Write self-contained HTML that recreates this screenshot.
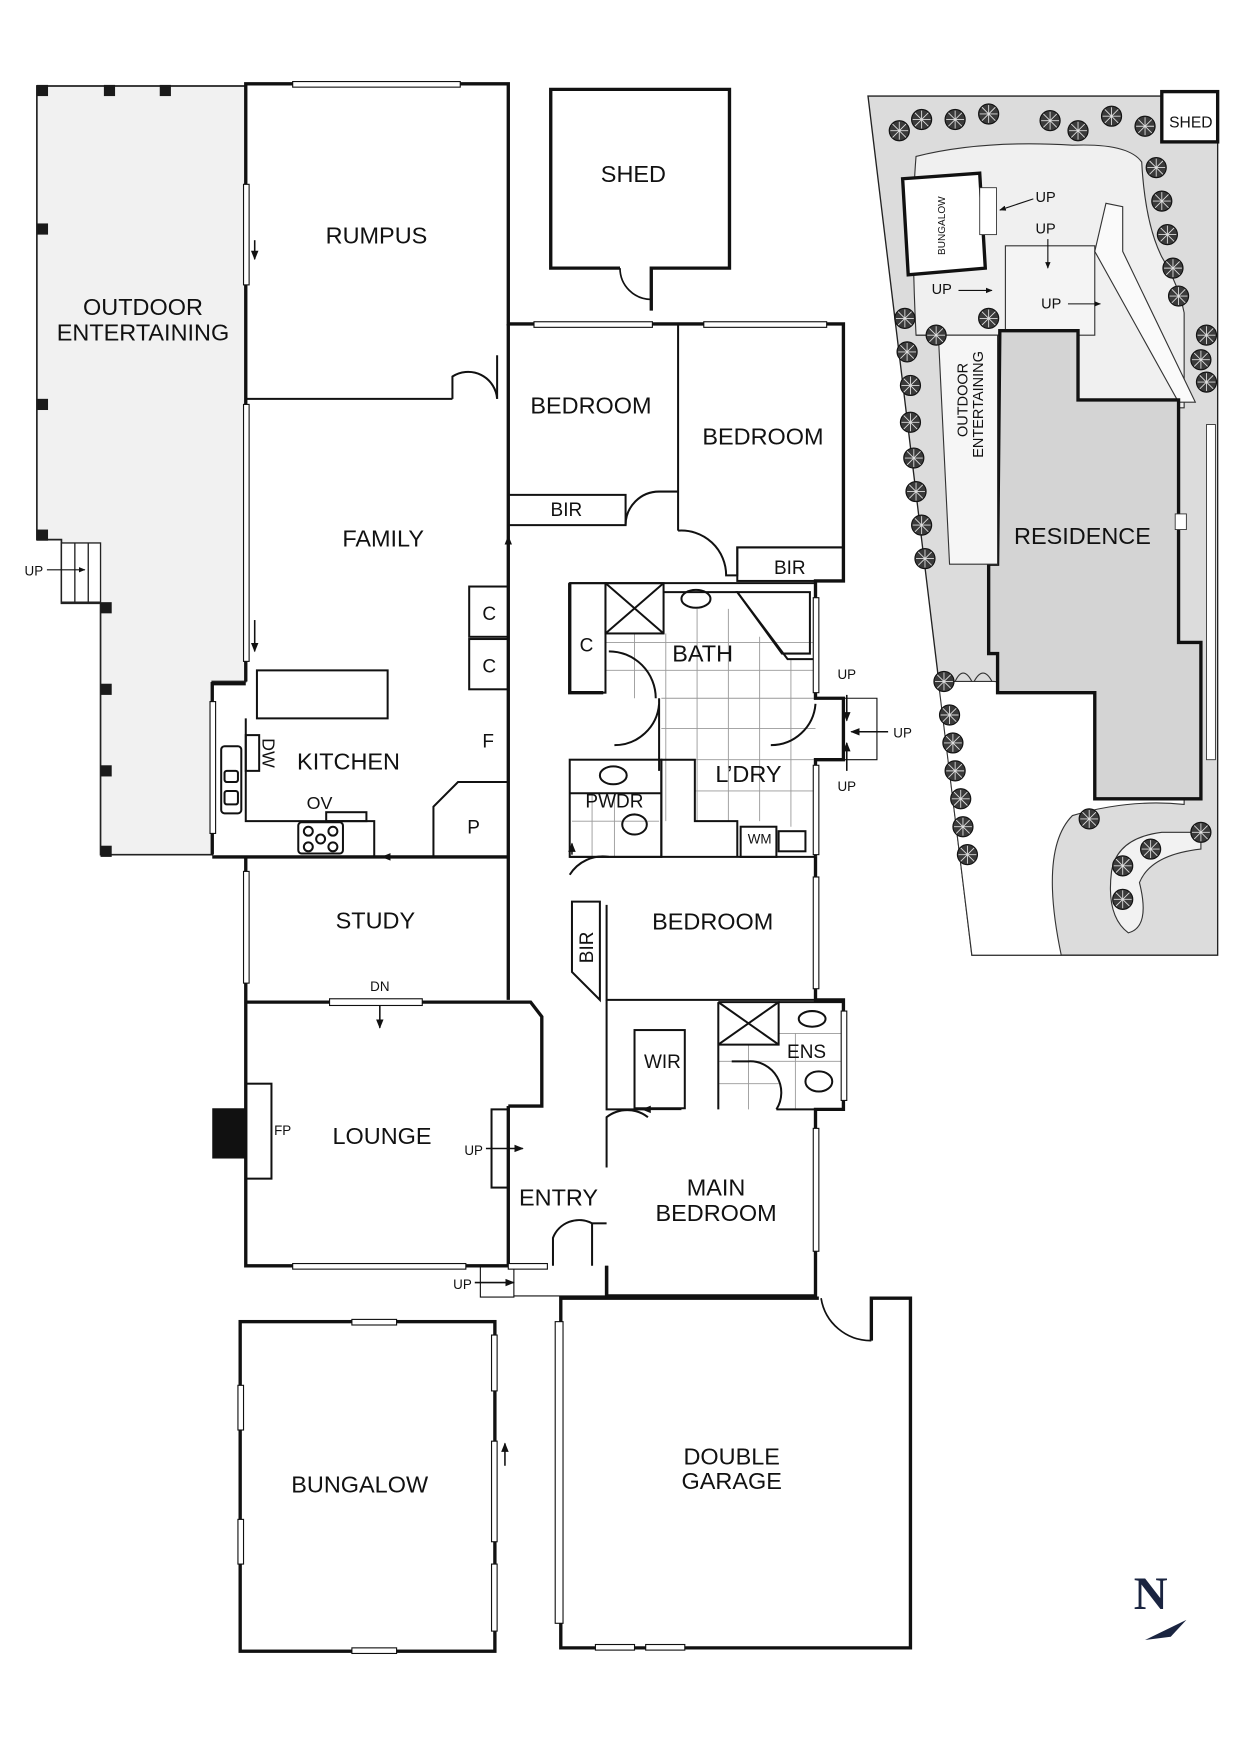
<!DOCTYPE html>
<html><head><meta charset="utf-8"><style>
html,body{margin:0;padding:0;background:#fff}
svg{display:block}
text{font-family:"Liberation Sans",Arial,sans-serif;fill:#111}
</style></head><body>
<svg width="1240" height="1754" viewBox="0 0 1110 1570" preserveAspectRatio="none" xmlns="http://www.w3.org/2000/svg">
<defs>
<marker id="ah" viewBox="0 0 10 10" refX="9" refY="5" markerWidth="6" markerHeight="6" orient="auto"><path d="M0,1 L10,5 L0,9z" fill="#111"/></marker>
<g id="tree"><circle r="9" fill="#3a3a3a" stroke="#111" stroke-width="1"/><path d="M-8,0H8M0,-8V8M-6,-6L6,6M-6,6L6,-6" stroke="#ddd" stroke-width="0.8"/></g>
</defs>
<rect width="1110" height="1570" fill="#fff"/>

<!-- OUTDOOR ENTERTAINING -->
<path d="M33,77 H220 V610 H190 V765 H90 V540 H55 V483 H33 Z" fill="#f1f1f1" stroke="#222" stroke-width="1.5"/>
<g fill="#1a1a1a">
<rect x="33" y="76" width="10" height="10"/><rect x="93" y="76" width="10" height="10"/><rect x="143" y="76" width="10" height="10"/>
<rect x="33" y="200" width="10" height="10"/><rect x="33" y="357" width="10" height="10"/><rect x="33" y="474" width="10" height="10"/>
<rect x="90" y="539" width="10" height="10"/><rect x="90" y="612" width="10" height="10"/><rect x="90" y="685" width="10" height="10"/><rect x="90" y="757" width="10" height="10"/>
</g>
<g stroke="#222" stroke-width="1.2" fill="#fff"><rect x="55" y="486" width="35" height="53"/><line x1="67" y1="486" x2="67" y2="539"/><line x1="79" y1="486" x2="79" y2="539"/></g>
<line x1="42" y1="510" x2="76" y2="510" stroke="#111" stroke-width="1" marker-end="url(#ah)"/>
<text x="22" y="515" font-size="12">UP</text>
<text x="128" y="282" font-size="21" text-anchor="middle">OUTDOOR</text>
<text x="128" y="305" font-size="21" text-anchor="middle">ENTERTAINING</text>

<!-- tiles -->
<g stroke="#999" stroke-width="0.8">
<path d="M568,567 V625 M596,567 V735 M624,545 V735 M652,545 V735 M680,570 V735 M708,590 V740"/>
<path d="M542,575 H730 M542,600 H730 M592,625 H730 M592,652 H730 M622,680 H730 M622,708 H730"/>
<path d="M512,735 H590 M530,712 V767 M550,712 V767"/>
<path d="M643,950 H697 M643,970 H697 M670,935 V993 M697,925 H755 M697,950 H755 M712,925 V993"/>
</g>

<!-- MAIN HOUSE WALLS -->
<g fill="none" stroke="#111" stroke-width="3" stroke-linejoin="miter">
<path d="M220,610 V75 H455 V290 H755 V520 H730 V540"/>
<path d="M190,765 V612 H220"/>
<path d="M190,767 H455"/>
<path d="M220,767 V1133 H455"/>
<path d="M220,897 H295 M378,897 H475 L485,910 V990 H455"/>
<path d="M455,290 V895"/>
<path d="M455,990 V1133 H490"/>
<path d="M543,1133 V1160"/>
<path d="M730,540 V625 H755 V680 H730 V767"/>
<path d="M730,767 V895 H755 V993 H730 V1160 H543 V1133"/>
<path d="M510,522 V620 H540"/>
</g>
<g fill="none" stroke="#111" stroke-width="1.8">
<path d="M220,357 H405"/>
<path d="M405,357 V337 A26,26 0 0 1 445,357 V357"/><line x1="445" y1="318" x2="445" y2="357"/>
<path d="M455,443 H560 V470 H455"/>
<path d="M560,470 A30,30 0 0 1 590,440 H607 V290 M607,440 V475"/>
<path d="M607,475 A40,40 0 0 1 650,515 H660 V490 H755"/>
<rect x="660" y="490" width="95" height="30"/>
<path d="M510,522 H730"/>
<rect x="420" y="525" width="35" height="45"/><rect x="420" y="572" width="35" height="45"/>
<path d="M455,700 H410 L388,722 V767"/>
<path d="M230,600 H347 V643 H230 Z"/>
<path d="M220,643 V735 H335 V767"/>
<rect x="220" y="658" width="12" height="32"/>
<rect x="292" y="727" width="36" height="8"/>
<rect x="267" y="736" width="40" height="28" rx="3"/>
<circle cx="276" cy="744" r="4"/><circle cx="298" cy="744" r="4"/><circle cx="276" cy="758" r="4"/><circle cx="298" cy="758" r="4"/><circle cx="287" cy="751" r="4"/>
<rect x="198" y="668" width="18" height="60" rx="3"/>
<rect x="201" y="690" width="12" height="10" rx="2"/><rect x="201" y="708" width="12" height="12" rx="2"/>
<!-- bath -->
<rect x="510" y="522" width="32" height="98"/>
<rect x="542" y="522" width="52" height="45"/><path d="M542,522 L594,567 M594,522 L542,567"/>
<ellipse cx="623" cy="536" rx="13" ry="8"/>
<path d="M660,530 H725 V585 H700 Z"/>
<path d="M594,530 H660 L705,590 H730"/>
<path d="M545,583 A42,42 0 0 1 587,625"/>
<path d="M590,625 V690 M590,630 A40,40 0 0 1 550,667"/>
<path d="M730,630 A40,40 0 0 1 690,667"/>
<!-- pwdr / ldry -->
<rect x="510" y="680" width="82" height="87"/>
<line x1="510" y1="710" x2="592" y2="710"/>
<ellipse cx="549" cy="694" rx="12" ry="8"/>
<ellipse cx="568" cy="738" rx="11" ry="9"/>
<path d="M592,680 V767 M592,680 H622 V735 H660 V767"/>
<rect x="663" y="740" width="32" height="27"/><rect x="697" y="744" width="24" height="18"/>
<path d="M510,767 H730"/>
<!-- bedroom 3 -->
<path d="M510,783 A35,35 0 0 1 545,767"/>
<path d="M512,807 H537 V895 L512,870 Z"/>
<path d="M543,810 V895 H730"/>
<!-- ens/wir -->
<path d="M543,895 V993 H578"/>
<rect x="568" y="922" width="45" height="70"/>
<path d="M643,897 V993 M643,897 H697 V935 H643"/><path d="M643,897 L697,935 M697,897 L643,935"/>
<path d="M697,897 H755 V993 H695"/>
<ellipse cx="727" cy="912" rx="12" ry="7"/><ellipse cx="733" cy="968" rx="12" ry="9"/>
<path d="M655,950 H670 A28,28 0 0 1 695,993"/>
<path d="M543,1045 V1000 A30,30 0 0 1 580,1000"/>
<!-- entry door -->
<path d="M495,1133 V1108 A25,25 0 0 1 530,1095 V1133"/>
<line x1="530" y1="1095" x2="543" y2="1095"/>
<!-- lounge -->
<rect x="220" y="970" width="23" height="85"/>
<rect x="440" y="993" width="15" height="70"/>
</g>
<rect x="190" y="992" width="30" height="45" fill="#111"/>
<g stroke="#111" stroke-width="1.4">
<line x1="455" y1="525" x2="455" y2="480" marker-end="url(#ah)"/>
<line x1="390" y1="767" x2="342" y2="767" marker-end="url(#ah)"/>
<line x1="340" y1="900" x2="340" y2="920" marker-end="url(#ah)"/>
<line x1="435" y1="1028" x2="468" y2="1028" marker-end="url(#ah)"/>
<line x1="610" y1="993" x2="575" y2="993" marker-end="url(#ah)"/>
<line x1="228" y1="215" x2="228" y2="232" marker-end="url(#ah)"/>
<line x1="228" y1="555" x2="228" y2="583" marker-end="url(#ah)"/>
<line x1="758" y1="622" x2="758" y2="645" marker-end="url(#ah)"/>
<line x1="795" y1="655" x2="762" y2="655" marker-end="url(#ah)"/>
<line x1="758" y1="690" x2="758" y2="665" marker-end="url(#ah)"/>
<line x1="425" y1="1148" x2="460" y2="1148" marker-end="url(#ah)"/>
<line x1="452" y1="1312" x2="452" y2="1292" marker-end="url(#ah)"/>
<line x1="512" y1="765" x2="512" y2="755" marker-end="url(#ah)"/>
</g>
<path d="M730,625 H785 V680 H755" fill="none" stroke="#111" stroke-width="1"/>
<rect x="430" y="1133" width="30" height="28" fill="none" stroke="#111" stroke-width="1"/>
<path d="M460,1160 H543" stroke="#111" stroke-width="1"/>

<!-- windows -->
<g fill="#fff" stroke="#111" stroke-width="1">
<rect x="262" y="73" width="150" height="5"/>
<rect x="218" y="165" width="5" height="90"/><rect x="218" y="362" width="5" height="230"/>
<rect x="188" y="628" width="5" height="118"/>
<rect x="218" y="780" width="5" height="100"/>
<rect x="478" y="288" width="106" height="5"/><rect x="630" y="288" width="110" height="5"/>
<rect x="728" y="535" width="5" height="85"/><rect x="728" y="685" width="5" height="80"/>
<rect x="728" y="785" width="5" height="100"/><rect x="753" y="905" width="5" height="80"/>
<rect x="728" y="1010" width="5" height="110"/>
<rect x="295" y="894" width="83" height="6"/>
<rect x="262" y="1131" width="155" height="5"/><rect x="455" y="1131" width="35" height="5"/>
</g>

<!-- labels -->
<g font-size="21" text-anchor="middle">
<text x="337" y="218">RUMPUS</text>
<text x="343" y="489">FAMILY</text>
<text x="312" y="689">KITCHEN</text>
<text x="336" y="831">STUDY</text>
<text x="342" y="1024">LOUNGE</text>
<text x="529" y="370">BEDROOM</text>
<text x="683" y="398">BEDROOM</text>
<text x="629" y="592">BATH</text>
<text x="670" y="700">L’DRY</text>
<text x="638" y="832">BEDROOM</text>
<text x="500" y="1079">ENTRY</text>
<text x="641" y="1070">MAIN</text>
<text x="641" y="1093">BEDROOM</text>
<text x="567" y="163">SHED</text>
<text x="322" y="1336">BUNGALOW</text>
<text x="655" y="1311">DOUBLE</text>
<text x="655" y="1333">GARAGE</text>
</g>
<g font-size="17" text-anchor="middle">
<text x="507" y="462">BIR</text><text x="707" y="514">BIR</text>
<text x="438" y="555">C</text><text x="438" y="602">C</text><text x="525" y="583">C</text>
<text x="437" y="669">F</text><text x="424" y="746">P</text>
<text x="550" y="723">PWDR</text><text x="722" y="947">ENS</text>
<text x="593" y="956">WIR</text>
<text x="286" y="724" font-size="16">OV</text>
</g>
<text x="680" y="755" font-size="12" text-anchor="middle">WM</text>
<text x="340" y="887" font-size="12" text-anchor="middle">DN</text>
<text x="253" y="1016" font-size="12" text-anchor="middle">FP</text>
<text x="424" y="1034" font-size="12" text-anchor="middle">UP</text>
<text x="414" y="1154" font-size="12" text-anchor="middle">UP</text>
<text x="758" y="608" font-size="12" text-anchor="middle">UP</text>
<text x="808" y="660" font-size="12" text-anchor="middle">UP</text>
<text x="758" y="708" font-size="12" text-anchor="middle">UP</text>
<text font-size="16" transform="translate(235,674) rotate(90)" text-anchor="middle">DW</text>
<text font-size="17" transform="translate(531,848) rotate(-90)" text-anchor="middle">BIR</text>

<!-- SHED -->
<path d="M555,240 H493 V80 H653 V240 H583 V278" fill="none" stroke="#111" stroke-width="3"/>
<path d="M555,240 A28,28 0 0 0 583,268" fill="none" stroke="#111" stroke-width="1.5"/>

<!-- BUNGALOW -->
<rect x="215" y="1183" width="228" height="295" fill="none" stroke="#111" stroke-width="3"/>
<g fill="#fff" stroke="#111" stroke-width="1">
<rect x="315" y="1181" width="40" height="5"/><rect x="315" y="1475" width="40" height="5"/>
<rect x="213" y="1240" width="5" height="40"/><rect x="213" y="1360" width="5" height="40"/>
<rect x="440" y="1195" width="5" height="50"/><rect x="440" y="1290" width="5" height="90"/><rect x="440" y="1400" width="5" height="60"/>
</g>

<!-- GARAGE -->
<path d="M733,1162 H543 H502 V1475 H815 V1162 H780 V1200" fill="none" stroke="#111" stroke-width="3"/>
<path d="M735,1162 A45,45 0 0 0 780,1200" fill="none" stroke="#111" stroke-width="1.5"/>
<rect x="497" y="1183" width="7" height="270" fill="#fff" stroke="#111" stroke-width="1"/>
<g fill="#fff" stroke="#111" stroke-width="1"><rect x="533" y="1472" width="35" height="5"/><rect x="578" y="1472" width="35" height="5"/></g>

<!-- SITE PLAN -->
<path d="M777,86 H1090 V855 H870 Z" fill="#dcdcdc" stroke="#222" stroke-width="1.2"/>
<path d="M820,140 Q880,125 960,130 Q1010,128 1022,145 Q1025,200 1040,230 Q1055,255 1060,280 L1060,365 L900,365 L900,300 L820,300 Q815,200 820,140Z" fill="#f0f0f0" stroke="#333" stroke-width="1"/>
<path d="M820,300 L980,300 L980,220 L900,220 L900,300" fill="#f4f4f4" stroke="#333" stroke-width="1"/>
<path d="M840,610 L870,855 L950,855 Q930,760 960,730 Q1010,715 1060,720 L1060,690 L980,690 L980,620 L890,610 Z" fill="#fff" stroke="#333" stroke-width="1"/>
<path d="M980,225 L990,182 L1005,185 L1005,225 L1070,360 L1055,360 Z" fill="#fafafa" stroke="#333" stroke-width="1"/>
<path d="M995,780 Q1000,750 1040,745 L1075,745 L1075,760 Q1030,765 1020,790 Q1030,830 1010,835 Q990,820 995,780Z" fill="#f2f2f2" stroke="#333" stroke-width="1"/>
<rect x="1080" y="380" width="8" height="300" fill="#fff" stroke="#333" stroke-width="0.8"/>
<path d="M895,296 H965 V358 H1055 V575 H1075 V715 H980 V620 H893 V585 H885 V505 H893 Z" fill="#d4d4d4" stroke="#111" stroke-width="3"/>
<rect x="1052" y="460" width="10" height="14" fill="#fff" stroke="#333" stroke-width="0.8"/>
<path d="M840,300 H893 V505 H850 Z" fill="#f6f6f6" stroke="#333" stroke-width="1"/>
<polygon points="808,160 877,155 882,240 813,246" fill="#fff" stroke="#111" stroke-width="3"/>
<rect x="877" y="168" width="15" height="42" fill="#fff" stroke="#333" stroke-width="0.8"/>
<rect x="1040" y="82" width="50" height="45" fill="#fff" stroke="#111" stroke-width="3"/>
<path d="M855,610 Q862,595 870,610 M872,610 Q880,595 888,610" fill="none" stroke="#333" stroke-width="1"/>
<g>
<use href="#tree" x="805" y="117"/><use href="#tree" x="825" y="107"/><use href="#tree" x="855" y="107"/><use href="#tree" x="885" y="102"/>
<use href="#tree" x="940" y="108"/><use href="#tree" x="965" y="117"/><use href="#tree" x="995" y="104"/><use href="#tree" x="1025" y="113"/>
<use href="#tree" x="1035" y="150"/><use href="#tree" x="1040" y="180"/><use href="#tree" x="1045" y="210"/><use href="#tree" x="1050" y="240"/><use href="#tree" x="1055" y="265"/>
<use href="#tree" x="1080" y="300"/><use href="#tree" x="1075" y="322"/><use href="#tree" x="1080" y="342"/>
<use href="#tree" x="810" y="285"/><use href="#tree" x="812" y="315"/><use href="#tree" x="815" y="345"/><use href="#tree" x="815" y="378"/><use href="#tree" x="818" y="410"/><use href="#tree" x="820" y="440"/><use href="#tree" x="825" y="470"/><use href="#tree" x="828" y="500"/>
<use href="#tree" x="845" y="610"/><use href="#tree" x="850" y="640"/><use href="#tree" x="853" y="665"/><use href="#tree" x="855" y="690"/><use href="#tree" x="860" y="715"/><use href="#tree" x="862" y="740"/><use href="#tree" x="866" y="765"/>
<use href="#tree" x="838" y="300"/><use href="#tree" x="885" y="285"/><use href="#tree" x="1075" y="745"/><use href="#tree" x="1030" y="760"/><use href="#tree" x="1005" y="775"/><use href="#tree" x="1005" y="805"/><use href="#tree" x="975" y="733"/>
</g>
<g font-size="13"><text x="927" y="181">UP</text><text x="927" y="209">UP</text><text x="834" y="263">UP</text><text x="932" y="276">UP</text></g>
<g stroke="#111" stroke-width="1"><line x1="925" y1="178" x2="895" y2="188" marker-end="url(#ah)"/><line x1="938" y1="214" x2="938" y2="240" marker-end="url(#ah)"/><line x1="858" y1="260" x2="888" y2="260" marker-end="url(#ah)"/><line x1="956" y1="272" x2="985" y2="272" marker-end="url(#ah)"/></g>
<text x="1066" y="114" font-size="14" text-anchor="middle">SHED</text>
<text font-size="9" transform="translate(846,202) rotate(-90)" text-anchor="middle">BUNGALOW</text>
<text font-size="13" transform="translate(866,358) rotate(-90)" text-anchor="middle">OUTDOOR</text>
<text font-size="13" transform="translate(880,362) rotate(-90)" text-anchor="middle">ENTERTAINING</text>
<text x="969" y="487" font-size="21" text-anchor="middle">RESIDENCE</text>

<!-- North -->
<text x="1030" y="1440" font-size="42" font-weight="bold" text-anchor="middle" style="font-family:'Liberation Serif',serif;fill:#1a2440">N</text>
<path d="M1025,1468 L1062,1450 L1048,1465 Z" fill="#1a2440"/>
</svg>
</body></html>
